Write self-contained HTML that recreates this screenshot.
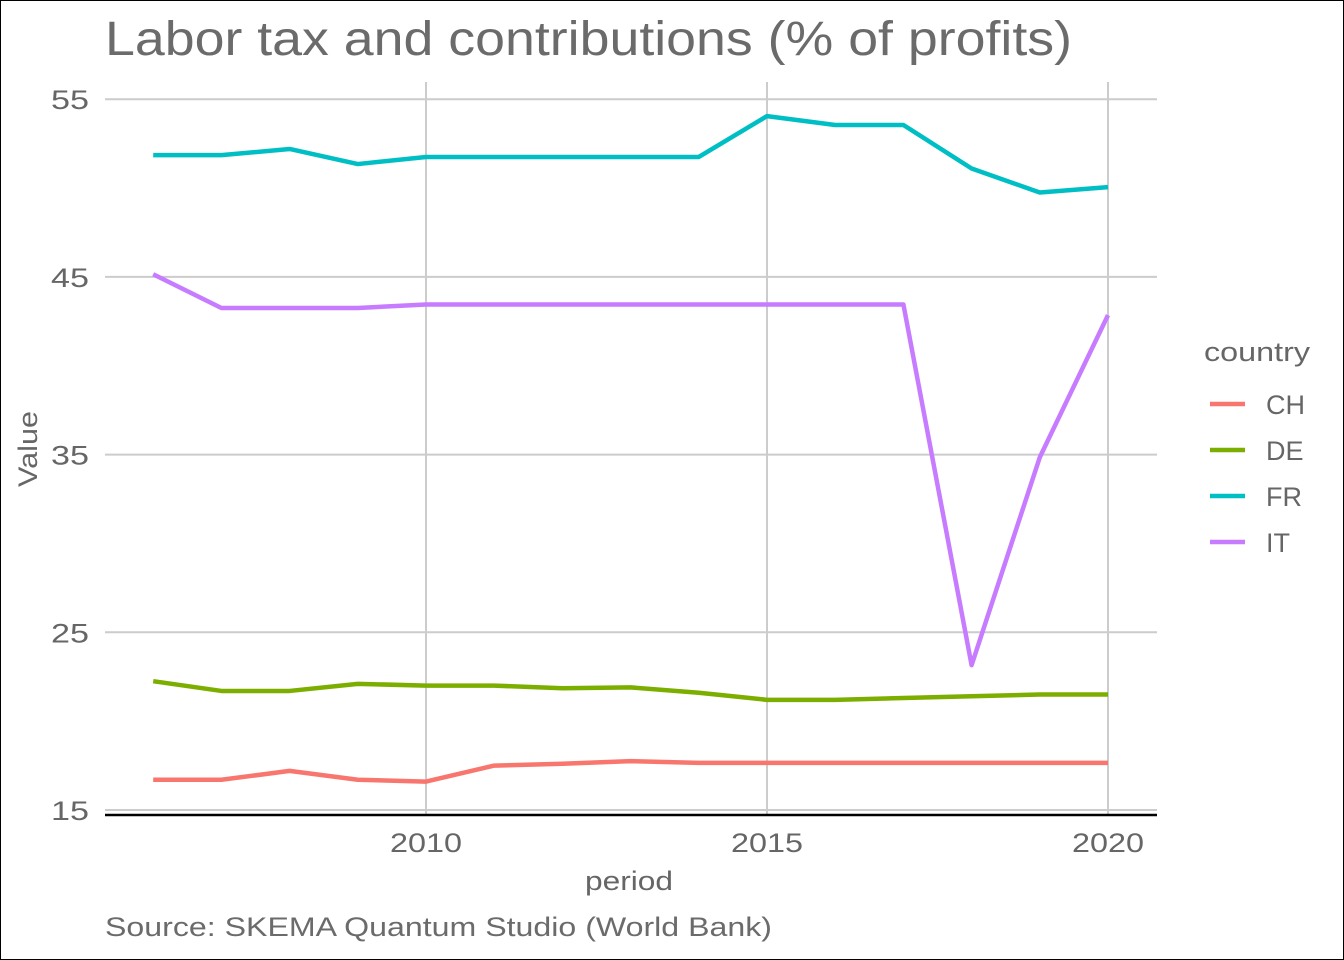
<!DOCTYPE html>
<html><head><meta charset="utf-8"><style>
html,body{margin:0;padding:0;background:#fff}
svg{display:block;font-family:"Liberation Sans",sans-serif}
</style></head><body>
<svg width="1344" height="960" viewBox="0 0 1344 960">
<rect x="0.5" y="0.5" width="1343" height="959" fill="#fff" stroke="#000"/>
<text x="105" y="55" font-size="48" fill="#6b6b6b" textLength="967" lengthAdjust="spacingAndGlyphs">Labor tax and contributions (% of profits)</text>
<g id="grid"></g>
<g id="series"></g>
<line x1="105" x2="1157" y1="815" y2="815" stroke="#000" stroke-width="2.5"/>
<g id="ticks"></g>
<text x="629" y="890" font-size="27" fill="#666" text-anchor="middle" textLength="88" lengthAdjust="spacingAndGlyphs">period</text>
<text transform="translate(37,449) rotate(-90)" font-size="27" fill="#666" text-anchor="middle" textLength="76" lengthAdjust="spacingAndGlyphs">Value</text>
<text x="105" y="936" font-size="27" fill="#6b6b6b" textLength="667" lengthAdjust="spacingAndGlyphs">Source: SKEMA Quantum Studio (World Bank)</text>
<text x="1204" y="361" font-size="27" fill="#666" textLength="106" lengthAdjust="spacingAndGlyphs">country</text>
<g id="legend"></g>
</svg>
<script>
const years=[2006,2007,2008,2009,2010,2011,2012,2013,2014,2015,2016,2017,2018,2019,2020];
const countries=["CH","DE","FR","IT"];
const colors=["#F8766D","#7CAE00","#00BFC4","#C77CFF"];
const CH=[16.7,16.7,17.2,16.7,16.6,17.5,17.6,17.75,17.65,17.65,17.65,17.65,17.65,17.65,17.65];
const DE=[22.25,21.7,21.7,22.1,22.0,22.0,21.85,21.9,21.6,21.2,21.2,21.3,21.4,21.5,21.5];
const FR=[51.85,51.85,52.2,51.35,51.75,51.75,51.75,51.75,51.75,54.05,53.55,53.55,51.1,49.75,50.05];
const IT=[45.15,43.25,43.25,43.25,43.45,43.45,43.45,43.45,43.45,43.45,43.45,43.45,23.15,34.85,42.85];
const yTicks=[15,25,35,45,55];
const xTicks=[2010,2015,2020];
const seriesData=[CH,DE,FR,IT];
const NS="http://www.w3.org/2000/svg";
const xS=v=>426+(v-2010)*68.2;
const yS=v=>810-(v-15)*17.77;
function mk(t,a,p){const e=document.createElementNS(NS,t);for(const k in a)e.setAttribute(k,a[k]);p.appendChild(e);return e;}
const grid=document.getElementById('grid'),ticks=document.getElementById('ticks');
yTicks.forEach(v=>{const l=mk('line',{x1:105,x2:1157,y1:yS(v),y2:yS(v),stroke:'#cccccc','stroke-width':2},grid);


const t=mk('text',{x:89,y:yS(v)+10,'font-size':27,fill:'#666','text-anchor':'end',textLength:38,lengthAdjust:'spacingAndGlyphs'},ticks);t.textContent=v;

});
xTicks.forEach(v=>{const l=mk('line',{x1:xS(v),x2:xS(v),y1:82,y2:815,stroke:'#cccccc','stroke-width':2},grid);


const t=mk('text',{x:xS(v),y:852,'font-size':27,fill:'#666','text-anchor':'middle',textLength:72,lengthAdjust:'spacingAndGlyphs'},ticks);t.textContent=v;

});
const sg=document.getElementById('series'),lg=document.getElementById('legend');
seriesData.forEach((d,i)=>{const p=mk('polyline',{points:d.map((v,j)=>xS(years[j])+','+yS(v)).join(' '),fill:'none',stroke:colors[i],'stroke-width':4.5,'stroke-linejoin':'round'},sg);


const y=404+i*46;
const g=mk('g',{},lg);


mk('line',{x1:1210,x2:1245,y1:y,y2:y,stroke:colors[i],'stroke-width':4.5},g);
const t=mk('text',{x:1266,y:y+10,'font-size':27,fill:'#666'},g);t.textContent=countries[i];});
</script>
</body></html>
